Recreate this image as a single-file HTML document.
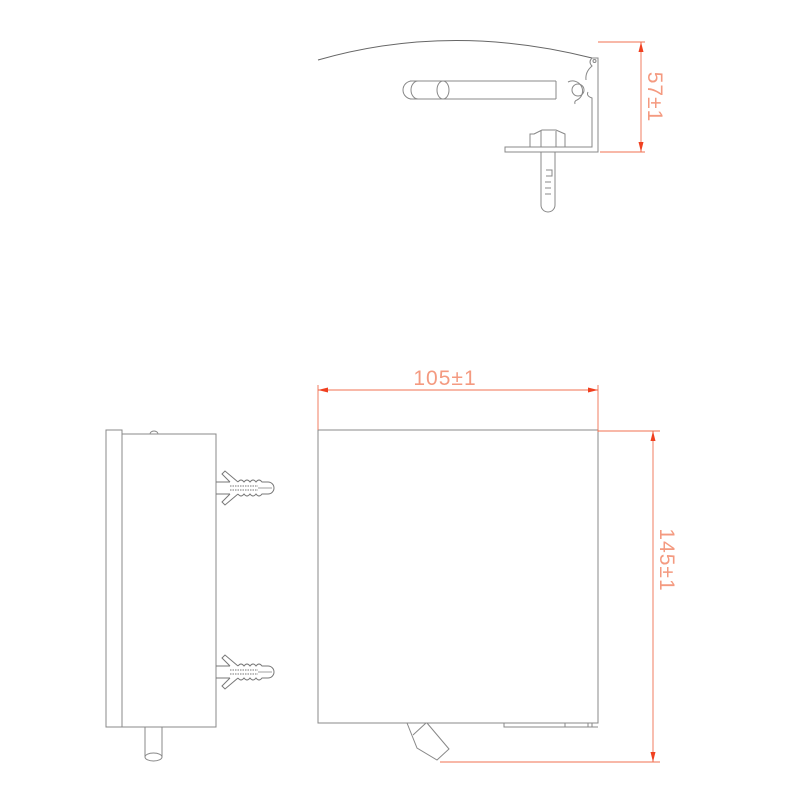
<!DOCTYPE html>
<html><head><meta charset="utf-8"><style>html,body{margin:0;padding:0;background:#fff}svg{display:block}</style></head>
<body>
<svg width="800" height="800" viewBox="0 0 800 800" xmlns="http://www.w3.org/2000/svg">
<defs>
<g id="anc" fill="none" stroke="#777" stroke-width="1">
  <path d="M0,-6 L14,-6 M0,6 L14,6"/>
  <path d="M14,-6 L6,-14 L9,-17 L22,-6 M14,6 L6,14 L9,17 L22,6"/>
  <path d="M22,-6 q3,-4 6,0 q3,-4 6,0 q3,-4 6,0 q3,-4 6,0 L52,-6 a6,6 0 0 1 0,12 L46,6 q-3,4 -6,0 q-3,4 -6,0 q-3,4 -6,0 q-3,4 -6,0"/>
  <path d="M14,-2 L42,-2 M14,2 L42,2" stroke-dasharray="1.5,1"/>
  <path d="M42,0 L56,0" stroke-width="0.7"/>
</g>
</defs>
<g fill="none" stroke="#888" stroke-width="1">
  <path d="M318,60 Q450,22 592,58" stroke="#666"/>
  <path d="M592,58 L598,58 L598,152 L505,152 L505,147 L592,147 L592,98 q-6,-2 -4,-6"/>
  <path d="M592,58 q-4,4 0,8 q-7,6 -6,14"/>
  <circle cx="594.5" cy="61" r="1.5"/>
  <path d="M410,81 L556,81 M410,99 L556,99 M556,81 L556,99"/>
  <path d="M412,81 a9,9 0 0 0 0,18 M418,81 a7,9 0 0 0 0,18"/>
  <ellipse cx="443" cy="90" rx="6" ry="9"/>
  <path d="M568,82 a10,10 0 1 1 9,18 q-3,1 -2,4"/>
  <circle cx="578" cy="90" r="6"/>
  <path d="M534,134 L542,130 L556,130 L565,134 L565,147 L530,147 L530,134 Z M541,131 L541,147 M556,131 L556,147"/>
  <path d="M541,152 L541,205 a7,7 0 0 0 14,0 L555,152"/>
  <path d="M546,170 L552,170 L552,176 L546,176 M545,182 L551,182 M545,188 L551,188 M545,194 L551,194"/>
  <rect x="106" y="430" width="16" height="297"/>
  <rect x="122" y="434" width="94" height="293"/>
  <path d="M150,434 a4,3 0 0 1 8,0"/>
  <path d="M145,727 L145,757 M162,727 L162,757"/>
  <ellipse cx="153.5" cy="757" rx="8.5" ry="4"/>
  <rect x="318" y="430" width="280" height="293"/>
  <path d="M504,723 L504,727 L598,727 M565,723 L565,727 M588,723 L588,727 M592,723 L592,727"/>
  <path d="M407,723 L417,748 L437,760 L449,749 L427,723 M413,735 L426,723"/>
</g>
<use href="#anc" x="216" y="488"/>
<use href="#anc" x="216" y="672"/>
<g stroke="#f07050" stroke-width="0.9" fill="none">
  <path d="M598,42 L645,42 M600,152 L645,152 M641,42 L641,152"/>
  <path d="M318,385 L318,430 M598,385 L598,432 M318,390 L598,390"/>
  <path d="M598,431 L660,431 M440,762 L660,762 M653,431 L653,762"/>
</g>
<g fill="#f04020">
  <path d="M641,42 l-2.5,10 h5 z M641,152 l-2.5,-10 h5 z"/>
  <path d="M318,390 l10,-2.5 v5 z M598,390 l-10,-2.5 v5 z"/>
  <path d="M653,431 l-2.5,10 h5 z M653,762 l-2.5,-10 h5 z"/>
</g>
<g fill="#f49a80" font-family="Liberation Sans, sans-serif" font-size="21" letter-spacing="1">
  <text x="445" y="385" text-anchor="middle">105±1</text>
  <text transform="translate(648,97) rotate(90)" text-anchor="middle">57±1</text>
  <text transform="translate(660,560) rotate(90)" text-anchor="middle">145±1</text>
</g>
</svg>
</body></html>
